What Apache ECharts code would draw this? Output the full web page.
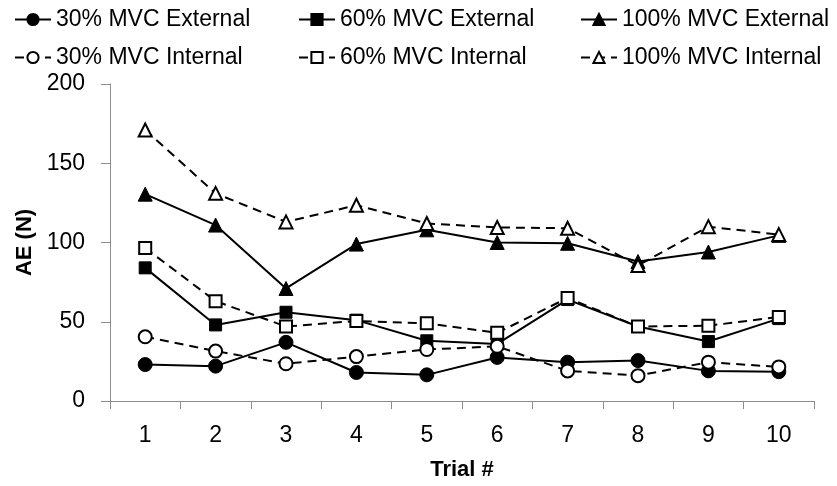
<!DOCTYPE html>
<html>
<head>
<meta charset="utf-8">
<script src="https://cdn.jsdelivr.net/npm/echarts@6/dist/echarts.min.js"></script>
<style>
html,body{margin:0;padding:0;background:#fff;}
#chart{width:837px;height:486px;}
</style>
</head>
<body>
<div id="chart"></div>
<script>
var trials = ['1','2','3','4','5','6','7','8','9','10'];
var yTicks = [0, 50, 100, 150, 200];
var ext30  = [23, 22, 37, 18, 16.5, 27.5, 24.5, 25.5, 19, 18.5];
var ext60  = [84, 48, 56, 51, 38, 36, 64, 47, 37.5, 52];
var ext100 = [130.5, 111, 71, 99, 108, 100, 99.5, 88, 94, 104.5];
var int30  = [40.5, 31.5, 23.5, 28, 32.5, 34.5, 19, 16, 24.5, 21.5];
var int60  = [96.5, 63, 47, 50.5, 49, 43, 65, 47, 47.5, 53];
var int100 = [171, 131, 113, 123.5, 112, 109.5, 109, 85.5, 110, 105];

var FONT = 'Liberation Sans, Arial, sans-serif';
var chart = echarts.init(document.getElementById('chart'), null, {renderer: 'canvas'});

function ext(name, data, symbol, size) {
  return {
    name: name, type: 'line', data: data,
    symbol: symbol, symbolSize: size,
    lineStyle: {color: '#000', width: 2, type: 'solid'},
    itemStyle: {color: '#000', borderColor: '#000', borderWidth: 1},
    animation: false
  };
}
function intl(name, data, symbol, size) {
  return {
    name: name, type: 'line', data: data,
    symbol: symbol, symbolSize: size,
    lineStyle: {color: '#000', width: 2, type: [9, 6]},
    itemStyle: {color: '#fff', borderColor: '#000', borderWidth: 2},
    animation: false
  };
}
function legendCol(left, names) {
  return {
    orient: 'vertical', left: left, top: 3,
    itemWidth: 36, itemHeight: 14, itemGap: 15,
    textStyle: {fontFamily: FONT, fontSize: 23, color: '#000'},
    data: names, selectedMode: false
  };
}

var option = {
  animation: false,
  backgroundColor: '#fff',
  legend: [
    legendCol(9, ['30% MVC External', '30% MVC Internal']),
    legendCol(293, ['60% MVC External', '60% MVC Internal']),
    legendCol(575, ['100% MVC External', '100% MVC Internal'])
  ],
  grid: {left: 110, right: 23, top: 84, bottom: 84, containLabel: false},
  xAxis: {
    type: 'category', data: trials, boundaryGap: true,
    name: 'Trial #', nameLocation: 'middle', nameGap: 58,
    nameTextStyle: {fontFamily: FONT, fontSize: 22, fontWeight: 'bold', color: '#000'},
    axisLine: {lineStyle: {color: '#8c8c8c', width: 1}},
    axisTick: {show: true, length: 8, alignWithLabel: false, lineStyle: {color: '#8c8c8c'}},
    axisLabel: {fontFamily: FONT, fontSize: 23, color: '#000', margin: 23},
    splitLine: {show: false}
  },
  yAxis: {
    type: 'value', min: yTicks[0], max: yTicks[yTicks.length - 1], interval: yTicks[1] - yTicks[0],
    name: 'AE (N)', nameLocation: 'middle', nameRotate: 90, nameGap: 72,
    nameTextStyle: {fontFamily: FONT, fontSize: 22, fontWeight: 'bold', color: '#000'},
    axisLine: {show: true, lineStyle: {color: '#8c8c8c', width: 1}},
    axisTick: {show: true, length: 9, lineStyle: {color: '#8c8c8c'}},
    axisLabel: {fontFamily: FONT, fontSize: 23, color: '#000', margin: 25},
    splitLine: {show: false}
  },
  series: [
    ext('30% MVC External', ext30, 'circle', 14),
    ext('60% MVC External', ext60, 'rect', 12),
    ext('100% MVC External', ext100, 'triangle', 14),
    intl('30% MVC Internal', int30, 'circle', 13),
    intl('60% MVC Internal', int60, 'rect', 12),
    intl('100% MVC Internal', int100, 'triangle', 13)
  ]
};
chart.setOption(option);
</script>
</body>
</html>
